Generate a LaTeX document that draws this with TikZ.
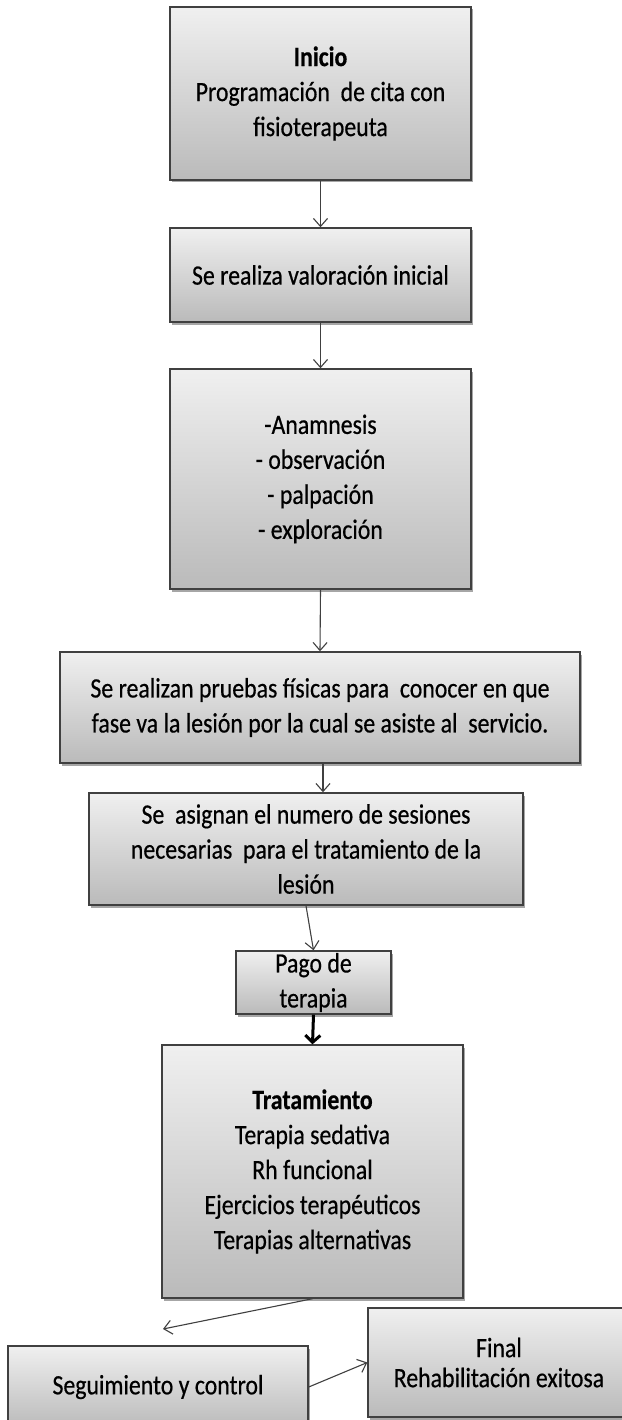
\documentclass[tikz,border=0pt]{standalone}
\usepackage{fontspec}
\setmainfont{Carlito}[FakeStretch=0.85,FakeBold=0.5]
\usetikzlibrary{shadows,calc,arrows.meta}
\begin{document}
\tikzset{
  box/.style={draw=black!75, line width=1.4pt, top color=black!6, bottom color=black!27,
    drop shadow={shadow xshift=2pt, shadow yshift=-2.5pt, opacity=0.35, fill=black},
    inner sep=0pt, align=center, font=\fontsize{28}{35}\selectfont},
  arr/.style={draw=black!75, line width=1.1pt, -{Straight Barb[length=8pt,width=14pt]}},
  thickarr/.style={draw=black, line width=3pt, -{Straight Barb[length=7pt,width=15pt]}},
}
\begin{tikzpicture}[x=1pt,y=-1pt]
\useasboundingbox[fill=white] (0,0) rectangle (621,1420);
\node[box, minimum width=301, minimum height=173] (b1) at (320.5,93.5)
  {\textbf{Inicio}\\Programación~ de cita con\\fisioterapeuta};
\node[box, minimum width=301, minimum height=94] (b2) at (320.5,275)
  {Se realiza valoración inicial};
\node[box, minimum width=301, minimum height=220] (b3) at (320.5,479)
  {-Anamnesis\\- observación\\- palpación\\- exploración};
\node[box, minimum width=520, minimum height=111] (b4) at (320,707.5)
  {Se realizan pruebas físicas para~ conocer en que\\fase va la lesión por la cual se asiste al~ servicio.};
\node[box, minimum width=434, minimum height=112] (b5) at (306,849)
  {Se~ asignan el numero de sesiones\\necesarias~ para el tratamiento de la\\lesión};
\node[box, minimum width=155, minimum height=63] (b6) at (313.5,982.5)
  {Pago de\\terapia};
\node[box, minimum width=301, minimum height=253] (b7) at (312.5,1171.5)
  {\textbf{Tratamiento}\\Terapia sedativa\\Rh funcional\\Ejercicios terapéuticos\\Terapias alternativas};
\node[box, minimum width=300, minimum height=82] (b8) at (158,1387)
  {Seguimiento y control};
\node[box, minimum width=262, minimum height=109, font=\fontsize{28}{30}\selectfont] (b9) at (499,1362.5)
  {Final\\Rehabilitación exitosa};
\coordinate (c7) at (163,1329);
\coordinate (a4) at ($(b4.south)+(3,0)$);
\draw[arr] (b1.south) -- (b2.north);
\draw[arr] (b2.south) -- (b3.north);
\draw[arr] (b3.south) -- (b4.north);
\draw[arr] (a4) -- (a4 |- b5.north);
\draw[arr] (b5.south) -- (b6.north);
\draw[thickarr] (b6.south) -- (b7.north);
\draw[arr] (b7.south) -- (c7);
\draw[arr] (b8.east) -- (b9.west);
\end{tikzpicture}
\end{document}
